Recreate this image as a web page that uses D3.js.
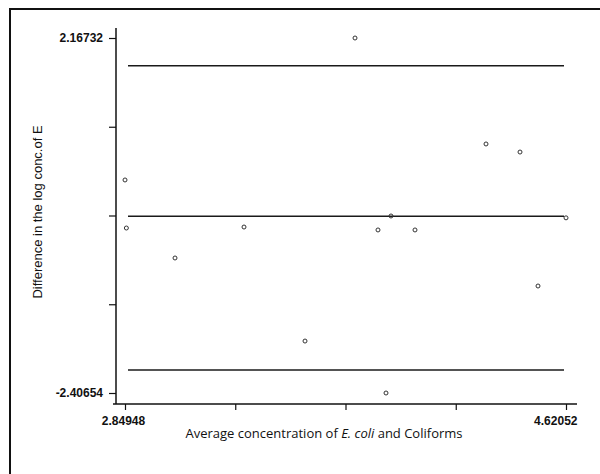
<!DOCTYPE html>
<html>
<head>
<meta charset="utf-8">
<script src="https://cdn.jsdelivr.net/npm/d3@7"></script>
<style>
  body { margin: 0; background: #fff; }
  .tick-label { font-family: "Liberation Sans", Arial, sans-serif; font-size: 12px; font-weight: bold; fill: #111; }
  .axis-title { font-family: "Liberation Sans", Arial, sans-serif; font-size: 13px; fill: #111; }
  .x-title { font-family: "Open Sans", sans-serif; font-size: 13px; fill: #111; }
</style>
</head>
<body>
<div id="chart"></div>
<script>
// mean difference vs average (Bland-Altman style)
const avgConc = [2.84948, 2.855, 3.0503, 3.3274, 3.7732, 3.8655, 3.9177, 4.0141, 4.2993, 4.4358, 4.5081, 3.5724, 3.8977, 4.62052];
const diffLog = [0.338, -0.281, -0.667, -0.268, 2.16732, -0.306, -0.126, -0.306, 0.802, 0.698, -1.028, -1.737, -2.40654, -0.15];

const limits = [1.81, -0.13, -2.11]; // upper limit, mean, lower limit

const xTicks = [2.84948, 3.29224, 3.735, 4.17776, 4.62052];
const xTickLabels = ["2.84948", "", "", "", "4.62052"];
const yTicks = [2.16732, 1.02385, -0.11961, -1.26308, -2.40654];
const yTickLabels = ["2.16732", "", "", "", "-2.40654"];

const width = 600, height = 474;

const svg = d3.select("#chart").append("svg")
    .attr("width", width).attr("height", height);

// outer frame
svg.append("rect").attr("x", 10).attr("y", 9).attr("width", 600).attr("height", 470)
    .attr("fill", "none").attr("stroke", "#111").attr("stroke-width", 2);

const x = d3.scaleLinear().domain([xTicks[0], xTicks[4]]).range([125, 566]);
const y = d3.scaleLinear().domain([yTicks[4], yTicks[0]]).range([393, 38]);

const axisY = 404, axisX = 116;

// axes lines
svg.append("line").attr("x1", axisX).attr("x2", axisX).attr("y1", y.range()[1] - 10).attr("y2", axisY)
    .attr("stroke", "#111").attr("stroke-width", 1.5);
svg.append("line").attr("x1", axisX - 3).attr("x2", x.range()[1] + 11).attr("y1", axisY).attr("y2", axisY)
    .attr("stroke", "#111").attr("stroke-width", 1.5);

// x ticks
const xAxis = svg.append("g").attr("transform", `translate(0,${axisY})`)
    .call(d3.axisBottom(x).tickValues(xTicks).tickSize(6).tickPadding(6).tickFormat((d, i) => xTickLabels[i]));
xAxis.select(".domain").remove();
xAxis.selectAll("line").attr("stroke", "#111").attr("stroke-width", 1.2);
xAxis.selectAll("text").attr("class", "tick-label").attr("font-size", null).attr("font-family", null)
    .attr("text-anchor", (d, i) => i === xTicks.length - 1 ? "end" : "middle")
    .attr("dx", (d, i) => i === xTicks.length - 1 ? 11 : -2);

// y ticks
const yAxis = svg.append("g").attr("transform", `translate(${axisX},0)`)
    .call(d3.axisLeft(y).tickValues(yTicks).tickSize(7).tickPadding(6).tickFormat((d, i) => yTickLabels[i]));
yAxis.select(".domain").remove();
yAxis.selectAll("line").attr("stroke", "#111").attr("stroke-width", 1.2);
yAxis.selectAll("text").attr("class", "tick-label").attr("font-size", null).attr("font-family", null);

// limit lines
svg.selectAll(".limit").data(limits).enter().append("line")
    .attr("class", "limit")
    .attr("x1", x(d3.min(avgConc)) + 3).attr("x2", x(d3.max(avgConc)) - 2)
    .attr("y1", d => y(d)).attr("y2", d => y(d))
    .attr("stroke", "#1a1a1a").attr("stroke-width", 1.5);

// points
svg.selectAll(".pt").data(avgConc).enter().append("circle")
    .attr("class", "pt")
    .attr("cx", d => x(d)).attr("cy", (d, i) => y(diffLog[i]))
    .attr("r", 2).attr("fill", "none").attr("stroke", "#333").attr("stroke-width", 1);

// titles
svg.append("text").attr("class", "x-title")
    .attr("x", 324).attr("y", 438).attr("text-anchor", "middle")
    .html('Average concentration of <tspan font-style="italic">E. coli</tspan> and Coliforms');

svg.append("text").attr("class", "axis-title")
    .attr("transform", "translate(42,212) rotate(-90)").attr("text-anchor", "middle")
    .text("Difference in the log conc.of E");
</script>
</body>
</html>
